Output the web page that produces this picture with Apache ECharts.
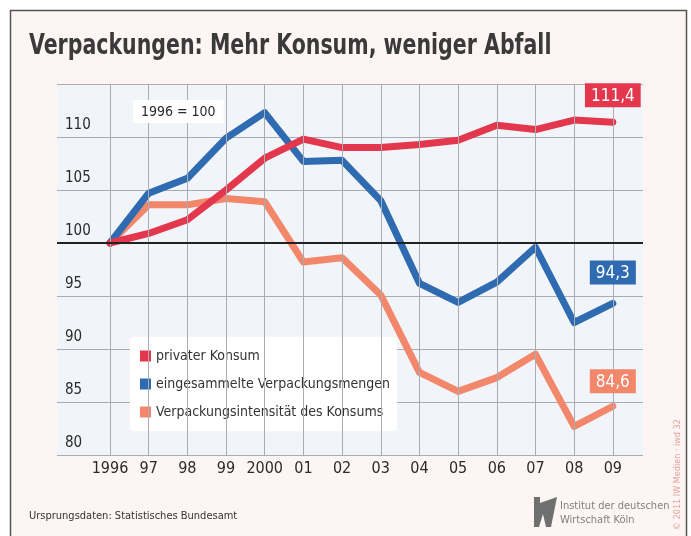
<!DOCTYPE html>
<html>
<head>
<meta charset="utf-8">
<script src="https://cdn.jsdelivr.net/npm/echarts@6/dist/echarts.min.js"></script>
<style>
  html, body { margin: 0; padding: 0; background: #fff; }
  #main { width: 691px; height: 536px; }
</style>
</head>
<body>
<div id="main"></div>
<script>
var years = [1996, 1997, 1998, 1999, 2000, 2001, 2002, 2003, 2004, 2005, 2006, 2007, 2008, 2009];
var yearLabels = ['1996', '97', '98', '99', '2000', '01', '02', '03', '04', '05', '06', '07', '08', '09'];
var yTicks = [80, 85, 90, 95, 100, 105, 110];

var privaterKonsum = [100, 100.9, 102.2, 105.0, 108.0, 109.8, 109.0, 109.0, 109.3, 109.7, 111.1, 110.7, 111.6, 111.4];
var verpackungsmengen = [100, 104.7, 106.1, 109.9, 112.3, 107.7, 107.8, 104.0, 96.2, 94.4, 96.3, 99.6, 92.5, 94.3];
var intensitaet = [100, 103.6, 103.6, 104.2, 103.9, 98.2, 98.6, 95.1, 87.8, 86.0, 87.3, 89.5, 82.7, 84.6];

var seriesNames = ['privater Konsum', 'eingesammelte Verpackungsmengen', 'Verpackungsintensität des Konsums'];
var colors = ['#e3374d', '#2f6bb0', '#f2876b'];

var FONT = "'Liberation Sans Narrow', 'DejaVu Sans Condensed', 'Roboto Condensed', 'Open Sans', sans-serif";

function fmt(v) {
  return v.toFixed(1).replace('.', ',');
}

function pairs(values) {
  return values.map(function (v, i) { return [years[i], v]; });
}

// kaestchen mit dem letzten wert ueber dem endpunkt
function endBox(values, color, dist) {
  var last = values.length - 1;
  return {
    silent: true,
    symbol: 'rect',
    symbolSize: 2,
    itemStyle: { color: 'rgba(0,0,0,0)' },
    label: {
      show: true,
      position: 'top',
      distance: dist,
      formatter: function (p) { return fmt(p.value); },
      color: '#fff',
      fontFamily: FONT,
      fontSize: 17,
      backgroundColor: color,
      padding: [3, 6, 1, 6],
      lineHeight: 20
    },
    data: [{ coord: [years[last], values[last]], value: values[last] }]
  };
}

function lineSeries(idx, values, dist, z) {
  return {
    name: seriesNames[idx],
    type: 'line',
    z: z,
    symbol: 'none',
    color: colors[idx],
    lineStyle: { width: 7, cap: 'round', join: 'round' },
    data: pairs(values),
    markPoint: endBox(values, colors[idx], dist)
  };
}

var myChart = echarts.init(document.getElementById('main'));

myChart.setOption({
  animation: false,
  backgroundColor: '#ffffff',
  textStyle: { fontFamily: FONT },
  legend: {
    orient: 'vertical',
    left: 130,
    top: 337,
    padding: [12, 7, 12, 10],
    backgroundColor: '#ffffff',
    borderRadius: 3,
    itemWidth: 11,
    itemHeight: 11,
    itemGap: 14,
    icon: 'rect',
    data: seriesNames,
    textStyle: { fontFamily: FONT, fontSize: 14, color: '#333' }
  },
  grid: {
    left: 57,
    right: 48,
    top: 84,
    bottom: 81,
    show: true,
    backgroundColor: '#f1f4f8',
    borderWidth: 0
  },
  xAxis: {
    type: 'value',
    min: 1994.63,
    max: 2009.78,
    axisLine: { show: false },
    axisTick: { show: false },
    splitLine: { show: false },
    axisLabel: {
      customValues: years,
      margin: 6,
      fontFamily: FONT,
      fontSize: 16,
      color: '#2a2a2a',
      formatter: function (v) {
        var i = years.indexOf(Math.round(v));
        return i >= 0 ? yearLabels[i] : '';
      }
    }
  },
  yAxis: {
    type: 'value',
    min: 80,
    max: 115,
    interval: 5,
    axisLine: { show: false },
    axisTick: { show: false },
    splitLine: { lineStyle: { color: '#a7adb3', width: 1 } },
    axisLabel: {
      inside: true,
      margin: 8,
      verticalAlign: 'bottom',
      padding: [0, 0, 4, 0],
      fontFamily: FONT,
      fontSize: 15,
      color: '#2a2a2a',
      formatter: function (v) { return yTicks.indexOf(v) >= 0 ? String(v) : ''; }
    }
  },
  graphic: [
    {
      type: 'rect',
      z: -1,
      silent: true,
      shape: { x: 10.5, y: 10.5, width: 676, height: 540 },
      style: { fill: '#fcf5f3', stroke: '#555', lineWidth: 1.5 }
    },
    {
      type: 'text',
      z: 100,
      x: 29,
      y: 33,
      scaleX: 0.815,
      style: {
        text: 'Verpackungen: Mehr Konsum, weniger Abfall',
        fontFamily: FONT,
        fontSize: 28,
        fontWeight: 'bold',
        fill: '#3a3a3a'
      }
    },
    {
      type: 'text',
      z: 100,
      x: 133,
      y: 100,
      style: {
        text: '1996 = 100',
        fontFamily: FONT,
        fontSize: 14,
        fill: '#2a2a2a',
        backgroundColor: '#ffffff',
        padding: [5, 8, 4, 8]
      }
    },
    {
      type: 'text',
      z: 100,
      x: 29,
      y: 511,
      style: { text: 'Ursprungsdaten: Statistisches Bundesamt', fontFamily: FONT, fontSize: 11, fill: '#333' }
    },
    {
      type: 'polygon',
      z: 100,
      shape: { points: [[534, 497], [540, 497], [540, 503], [557, 497], [551, 527], [546, 527], [543, 514], [539, 527], [534, 527]] },
      style: { fill: '#6f6f6f' }
    },
    {
      type: 'text',
      z: 100,
      x: 560,
      y: 499,
      style: { text: 'Institut der deutschen\nWirtschaft Köln', fontFamily: FONT, fontSize: 11, lineHeight: 14, fill: '#808080' }
    },
    {
      type: 'text',
      z: 100,
      x: 673,
      y: 530,
      rotation: Math.PI / 2,
      style: { text: '© 2011 IW Medien · iwd 32', fontFamily: FONT, fontSize: 9, fill: '#e4a4a0' }
    }
  ],
  series: [
    {
      // nur fuer die senkrechten gitterlinien und die 100er-linie
      type: 'line',
      z: 1,
      data: [],
      silent: true,
      markLine: {
        silent: true,
        symbol: 'none',
        label: { show: false },
        data: years.map(function (y) {
          return { xAxis: y, lineStyle: { color: '#a7adb3', width: 1, type: 'solid' } };
        }).concat([{ yAxis: 100, lineStyle: { color: '#222', width: 2, type: 'solid' } }])
      }
    },
    lineSeries(0, privaterKonsum, 14, 4),
    lineSeries(1, verpackungsmengen, 18, 3),
    lineSeries(2, intensitaet, 12, 2)
  ]
});
</script>
</body>
</html>
